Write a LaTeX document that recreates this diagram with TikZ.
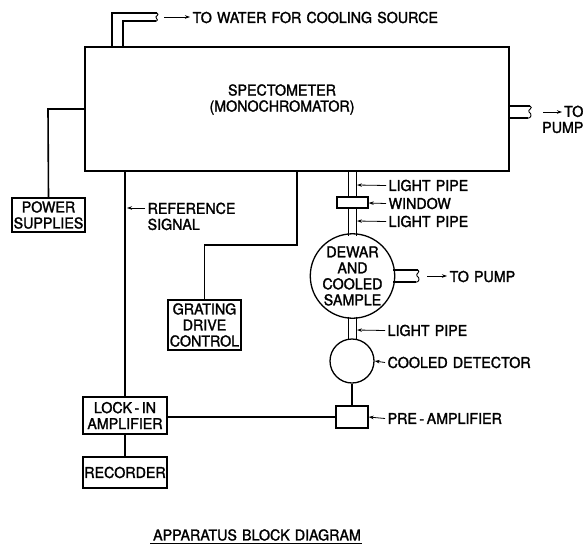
\documentclass[tikz,border=0pt]{standalone}
\usepackage{fontspec}
\setmainfont[FakeStretch=0.95,WordSpace=1.3,FakeBold=1.6]{TeX Gyre Heros}
\usetikzlibrary{arrows.meta,calc}
\begin{document}
\begin{tikzpicture}[x=1pt,y=-1pt,
  line width=1.3pt,
  every node/.style={font=\fontsize{15}{16}\selectfont, inner sep=0pt},
  blk/.style={draw, rectangle, align=center},
  lbl/.style={anchor=west, align=left},
  lead/.style={line width=0.8pt, -{Stealth[length=5pt,width=3.5pt]}},
  pipe/.style={line width=1.2pt},
  wire/.style={line width=1.6pt}]
\useasboundingbox (0,0) rectangle (586,544);

% Spectrometer
\node[blk, minimum width=424pt, minimum height=124pt] (spec) at (297,109) {};
\node[align=center] (spectxt) at (282,99.5) {SPECTOMETER\\(MONOCHROMATOR)};

% water pipe
\coordinate (wo) at (112,47);
\coordinate (wi) at (123,47);
\draw[pipe] (wo) -- (112,13) -- (157,13);
\draw[pipe] (wi) -- (123,21) -- (156,21);
\draw[pipe, line width=0.9pt] (157,13) .. controls (160,15) and (155,16) .. (156,17.5) .. controls (158,19) and (158,21) .. (155,21.5);
\coordinate (wa1) at (164,17);
\coordinate (wa2) at (190,17);
\draw[lead] (wa1) -- (wa2);
\node[lbl] (water) at (192,17.5) {TO WATER FOR COOLING SOURCE};

% right pump pipe
\draw[pipe] (spec.east |- 0,106) -- (530,106);
\draw[pipe] (spec.east |- 0,118) -- (528,118);
\draw[pipe, line width=0.9pt] (530,106) .. controls (534,108) and (527,110) .. (529,112) .. controls (532,114) and (532,118) .. (527,118.5);
\coordinate (pa1) at (543,112);
\coordinate (pa2) at (562,112);
\draw[lead] (pa1) -- (pa2);
\node[anchor=north east, align=right] (pump1) at (584,105) {TO\\PUMP};

% power supplies
\node[blk, minimum width=73pt, minimum height=34pt] (ps) at (48.5,215) {POWER\\SUPPLIES};
\draw[wire] (ps.north) -- (48,109) -- (spec.west |- 0,109);

% lock-in and recorder
\node[blk, minimum width=84pt, minimum height=37pt] (lockin) at (125,415.5) {LOCK\hspace{2.5pt}-\hspace{2.5pt}IN\\AMPLIFIER};
\node[blk, minimum width=84pt, minimum height=31pt] (rec) at (125,472.5) {RECORDER};
\draw[wire] (spec.south -| lockin.north) -- (lockin.north);
\draw[wire] (lockin.south) -- (rec.north);

% reference label
\node[lbl, anchor=north west] (ref) at (147,202) {REFERENCE\\SIGNAL};
\coordinate (refa) at (145,208);
\coordinate (refb) at (127,208);
\draw[lead] (refa) -- (refb);

% grating drive
\node[blk, minimum width=73pt, minimum height=50pt] (grat) at (204.5,325) {GRATING\\DRIVE\\CONTROL};
\draw[wire] (spec.south -| 297,0) -- (297,245) -- (grat.north |- 0,245) -- (grat.north);

% window, dewar, detector, preamp
\node[blk, minimum width=31pt, minimum height=11pt] (win) at (352.5,202.5) {};
\node[draw, circle, minimum size=82pt, align=center] (dewar) at (352.5,276) {DEWAR\\AND\\COOLED\\SAMPLE};
\node[draw, circle, minimum size=44pt] (det) at (352,361) {};
\node[blk, minimum width=32pt, minimum height=22pt] (pre) at (352,417) {};

% light pipes
\draw[pipe] (spec.south -| 348.5,0) -- (win.north -| 348.5,0);
\draw[pipe] (spec.south -| 356.5,0) -- (win.north -| 356.5,0);
\draw[pipe] (win.south -| 348.5,0) -- (348.5,235.5);
\draw[pipe] (win.south -| 356.5,0) -- (356.5,235.5);
\draw[pipe] (348.5,316.5) -- (348.5,339.5);
\draw[pipe] (356.5,316.5) -- (356.5,339.5);
\draw[wire] (det.south) -- (pre.north);
\draw[wire] (lockin.east |- pre.west) -- (pre.west);

% dewar pump pipe
\draw[pipe] (393,270) -- (418,270);
\draw[pipe] (393,282) -- (416,282);
\draw[pipe, line width=0.9pt] (418,270) .. controls (421,272) and (415,274) .. (417,276) .. controls (420,278) and (420,282) .. (415,282.5);
\coordinate (da1) at (427,276);
\coordinate (da2) at (447,276);
\draw[lead] (da1) -- (da2);
\node[lbl] (dpump) at (449,276.5) {TO PUMP};

% labels on the right
\node[lbl] (lp1) at (388,185.5) {LIGHT PIPE};
\node[lbl] (wl) at (388,203.5) {WINDOW};
\node[lbl] (lp2) at (388,221.5) {LIGHT PIPE};
\node[lbl] (lp3) at (387,330.5) {LIGHT PIPE};
\node[lbl] (cd) at (387,362.5) {COOLED DETECTOR};
\node[lbl] (pa) at (387,418.5) {PRE\hspace{2.5pt}-\hspace{2.5pt}AMPLIFIER};
\draw[lead] (lp1.west) ++(-2,0) -- (357,185);
\draw[lead] (wl.west) ++(-2,0) -- (win.east |- 0,203);
\draw[lead] (lp2.west) ++(-2,0) -- (357,221);
\draw[lead] (lp3.west) ++(-2,0) -- (357,330);
\draw[lead] (cd.west) ++(-2,0) -- (det.east);
\draw[lead] (pa.west) ++(-2,0) -- (pre.east);

% caption
\node (cap) at (257,535) {APPARATUS BLOCK DIAGRAM};
\draw[line width=0.8pt] (cap.south west) ++(-2,2) -- ($(cap.south east)+(0,2)$);
\end{tikzpicture}
\end{document}
